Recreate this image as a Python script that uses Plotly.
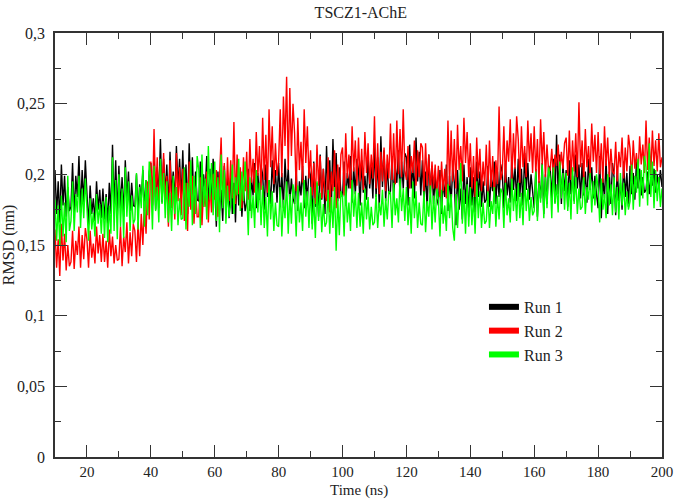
import plotly.graph_objects as go

# ---------------- data ----------------
# RMSD samples every 0.5 ns from 10 ns to 200 ns
time_start = 10.0
time_step = 0.5

run1 = [
    0.203, 0.172, 0.195, 0.166, 0.207, 0.178, 0.199, 0.170, 0.191, 0.174,
    0.177, 0.208, 0.170, 0.199, 0.184, 0.213, 0.173, 0.203, 0.180, 0.210,
    0.186, 0.164, 0.192, 0.172, 0.183, 0.167, 0.195, 0.175, 0.189, 0.169,
    0.190, 0.168, 0.186, 0.165, 0.194, 0.172, 0.221, 0.176, 0.210, 0.170,
    0.206, 0.176, 0.198, 0.170, 0.210, 0.182, 0.202, 0.174, 0.194, 0.178,
    0.177, 0.200, 0.172, 0.193, 0.182, 0.203, 0.174, 0.196, 0.179, 0.202,
    0.208, 0.178, 0.214, 0.175, 0.205, 0.183, 0.225, 0.180, 0.211, 0.186,
    0.207, 0.175, 0.216, 0.186, 0.202, 0.180, 0.220, 0.191, 0.211, 0.182,
    0.217, 0.180, 0.207, 0.172, 0.222, 0.187, 0.212, 0.177, 0.202, 0.182,
    0.181, 0.209, 0.174, 0.200, 0.187, 0.213, 0.176, 0.204, 0.183, 0.211,
    0.193, 0.163, 0.202, 0.174, 0.189, 0.167, 0.206, 0.178, 0.197, 0.169,
    0.202, 0.172, 0.194, 0.166, 0.206, 0.178, 0.198, 0.170, 0.190, 0.174,
    0.180, 0.204, 0.174, 0.197, 0.185, 0.208, 0.176, 0.201, 0.182, 0.206,
    0.200, 0.175, 0.207, 0.184, 0.196, 0.179, 0.210, 0.187, 0.203, 0.180,
    0.208, 0.181, 0.201, 0.176, 0.211, 0.187, 0.204, 0.180, 0.197, 0.183,
    0.179, 0.203, 0.174, 0.195, 0.185, 0.206, 0.176, 0.199, 0.181, 0.204,
    0.199, 0.165, 0.209, 0.177, 0.194, 0.170, 0.214, 0.182, 0.204, 0.172,
    0.220, 0.183, 0.210, 0.176, 0.225, 0.191, 0.215, 0.181, 0.205, 0.186,
    0.184, 0.209, 0.178, 0.201, 0.190, 0.213, 0.180, 0.205, 0.186, 0.211,
    0.203, 0.178, 0.210, 0.187, 0.199, 0.182, 0.213, 0.190, 0.206, 0.183,
    0.222, 0.184, 0.212, 0.176, 0.227, 0.191, 0.217, 0.181, 0.207, 0.186,
    0.188, 0.213, 0.182, 0.205, 0.194, 0.217, 0.184, 0.209, 0.190, 0.215,
    0.212, 0.178, 0.221, 0.190, 0.207, 0.183, 0.226, 0.195, 0.216, 0.185,
    0.210, 0.181, 0.202, 0.175, 0.214, 0.187, 0.206, 0.179, 0.198, 0.183,
    0.178, 0.203, 0.172, 0.195, 0.184, 0.207, 0.174, 0.199, 0.180, 0.205,
    0.194, 0.164, 0.203, 0.175, 0.190, 0.168, 0.207, 0.179, 0.198, 0.170,
    0.205, 0.178, 0.198, 0.173, 0.209, 0.184, 0.202, 0.177, 0.195, 0.180,
    0.182, 0.206, 0.177, 0.198, 0.188, 0.209, 0.179, 0.202, 0.184, 0.207,
    0.201, 0.176, 0.208, 0.185, 0.198, 0.180, 0.212, 0.189, 0.205, 0.181,
    0.211, 0.184, 0.204, 0.178, 0.215, 0.189, 0.208, 0.182, 0.200, 0.185,
    0.176, 0.204, 0.170, 0.195, 0.183, 0.208, 0.172, 0.200, 0.179, 0.206,
    0.204, 0.183, 0.211, 0.180, 0.228, 0.186, 0.214, 0.179, 0.207, 0.188,
    0.203, 0.177, 0.210, 0.186, 0.199, 0.181, 0.214, 0.190, 0.207, 0.183,
    0.208, 0.185, 0.202, 0.180, 0.211, 0.189, 0.205, 0.183, 0.199, 0.186,
    0.176, 0.213, 0.169, 0.197, 0.183, 0.211, 0.172, 0.202, 0.179, 0.208,
    0.198, 0.171, 0.205, 0.181, 0.194, 0.175, 0.209, 0.184, 0.201, 0.177,
    0.206, 0.186, 0.201, 0.182, 0.209, 0.190, 0.204, 0.185, 0.198, 0.187,
    0.189, 0.202, 0.186, 0.198, 0.192, 0.204, 0.187, 0.200, 0.190, 0.203,
    0.191,
]
run2 = [
    0.161, 0.134, 0.154, 0.128, 0.165, 0.139, 0.158, 0.132, 0.150, 0.135,
    0.138, 0.160, 0.133, 0.153, 0.143, 0.163, 0.134, 0.157, 0.140, 0.162,
    0.154, 0.134, 0.160, 0.141, 0.151, 0.137, 0.163, 0.144, 0.157, 0.138,
    0.158, 0.138, 0.153, 0.134, 0.161, 0.142, 0.156, 0.137, 0.150, 0.139,
    0.140, 0.163, 0.135, 0.156, 0.145, 0.166, 0.137, 0.159, 0.142, 0.165,
    0.160, 0.138, 0.166, 0.142, 0.172, 0.150, 0.181, 0.158, 0.195, 0.168,
    0.209, 0.178, 0.232, 0.184, 0.212, 0.176, 0.206, 0.188, 0.215, 0.181,
    0.199, 0.163, 0.210, 0.176, 0.194, 0.168, 0.215, 0.181, 0.205, 0.171,
    0.204, 0.167, 0.194, 0.160, 0.209, 0.175, 0.199, 0.165, 0.189, 0.170,
    0.170, 0.198, 0.164, 0.189, 0.177, 0.202, 0.166, 0.194, 0.173, 0.200,
    0.182, 0.203, 0.170, 0.198, 0.226, 0.178, 0.208, 0.174, 0.212, 0.181,
    0.210, 0.183, 0.237, 0.179, 0.214, 0.186, 0.205, 0.176, 0.212, 0.188,
    0.216, 0.182, 0.225, 0.194, 0.211, 0.187, 0.230, 0.199, 0.220, 0.189,
    0.240, 0.196, 0.228, 0.187, 0.246, 0.205, 0.234, 0.193, 0.222, 0.199,
    0.209, 0.246, 0.198, 0.255, 0.220, 0.269, 0.203, 0.261, 0.213, 0.250,
    0.229, 0.188, 0.240, 0.203, 0.223, 0.194, 0.246, 0.208, 0.234, 0.197,
    0.217, 0.185, 0.208, 0.179, 0.221, 0.192, 0.213, 0.183, 0.204, 0.187,
    0.181, 0.212, 0.173, 0.202, 0.188, 0.217, 0.176, 0.207, 0.183, 0.214,
    0.219, 0.185, 0.229, 0.197, 0.214, 0.190, 0.234, 0.202, 0.224, 0.192,
    0.226, 0.195, 0.218, 0.189, 0.230, 0.201, 0.222, 0.193, 0.214, 0.197,
    0.241, 0.190, 0.222, 0.186, 0.216, 0.195, 0.219, 0.188, 0.214, 0.197,
    0.236, 0.196, 0.229, 0.193, 0.238, 0.200, 0.232, 0.198, 0.246, 0.203,
    0.196, 0.220, 0.190, 0.213, 0.201, 0.224, 0.192, 0.217, 0.198, 0.222,
    0.219, 0.188, 0.222, 0.192, 0.214, 0.186, 0.209, 0.190, 0.207, 0.185,
    0.206, 0.184, 0.209, 0.188, 0.204, 0.183, 0.238, 0.192, 0.231, 0.195,
    0.225, 0.190, 0.235, 0.203, 0.220, 0.195, 0.240, 0.208, 0.230, 0.198,
    0.222, 0.190, 0.213, 0.184, 0.226, 0.197, 0.218, 0.188, 0.209, 0.192,
    0.221, 0.187, 0.224, 0.191, 0.213, 0.185, 0.210, 0.193, 0.248, 0.196,
    0.201, 0.234, 0.194, 0.224, 0.209, 0.239, 0.196, 0.229, 0.204, 0.241,
    0.225, 0.194, 0.234, 0.205, 0.220, 0.198, 0.238, 0.209, 0.229, 0.201,
    0.234, 0.200, 0.225, 0.193, 0.239, 0.207, 0.230, 0.198, 0.221, 0.202,
    0.203, 0.218, 0.199, 0.214, 0.206, 0.221, 0.200, 0.216, 0.204, 0.222,
    0.226, 0.199, 0.231, 0.196, 0.224, 0.202, 0.229, 0.198, 0.251, 0.205,
    0.224, 0.195, 0.232, 0.205, 0.220, 0.199, 0.236, 0.209, 0.228, 0.201,
    0.230, 0.200, 0.222, 0.194, 0.234, 0.206, 0.226, 0.198, 0.218, 0.202,
    0.200, 0.223, 0.195, 0.216, 0.205, 0.226, 0.197, 0.219, 0.202, 0.228,
    0.218, 0.196, 0.224, 0.204, 0.215, 0.199, 0.227, 0.207, 0.221, 0.201,
    0.238, 0.203, 0.226, 0.200, 0.231, 0.206, 0.224, 0.202, 0.229, 0.205,
    0.212,
]
run3 = [
    0.182, 0.153, 0.178, 0.150, 0.185, 0.156, 0.180, 0.152, 0.199, 0.160,
    0.167, 0.195, 0.160, 0.186, 0.173, 0.199, 0.162, 0.190, 0.169, 0.197,
    0.176, 0.153, 0.183, 0.161, 0.173, 0.156, 0.186, 0.165, 0.179, 0.158,
    0.181, 0.155, 0.184, 0.152, 0.178, 0.158, 0.212, 0.160, 0.196, 0.154,
    0.200, 0.163, 0.190, 0.155, 0.205, 0.170, 0.195, 0.160, 0.185, 0.165,
    0.168, 0.201, 0.161, 0.191, 0.176, 0.206, 0.163, 0.196, 0.171, 0.209,
    0.196, 0.161, 0.206, 0.174, 0.191, 0.166, 0.211, 0.179, 0.201, 0.169,
    0.195, 0.166, 0.187, 0.160, 0.199, 0.172, 0.191, 0.164, 0.183, 0.168,
    0.169, 0.205, 0.161, 0.194, 0.177, 0.210, 0.164, 0.199, 0.172, 0.213,
    0.203, 0.162, 0.214, 0.177, 0.197, 0.168, 0.220, 0.182, 0.208, 0.171,
    0.209, 0.167, 0.198, 0.159, 0.214, 0.176, 0.203, 0.165, 0.192, 0.170,
    0.179, 0.207, 0.172, 0.198, 0.185, 0.211, 0.174, 0.202, 0.181, 0.209,
    0.189, 0.157, 0.198, 0.169, 0.185, 0.162, 0.203, 0.173, 0.194, 0.164,
    0.192, 0.162, 0.184, 0.156, 0.196, 0.168, 0.188, 0.160, 0.180, 0.164,
    0.163, 0.191, 0.156, 0.182, 0.169, 0.195, 0.158, 0.186, 0.165, 0.193,
    0.184, 0.156, 0.192, 0.166, 0.180, 0.160, 0.196, 0.170, 0.188, 0.162,
    0.191, 0.161, 0.183, 0.155, 0.195, 0.167, 0.187, 0.159, 0.179, 0.163,
    0.166, 0.189, 0.158, 0.184, 0.162, 0.191, 0.146, 0.183, 0.157, 0.188,
    0.184, 0.156, 0.192, 0.166, 0.180, 0.160, 0.196, 0.170, 0.188, 0.162,
    0.187, 0.163, 0.180, 0.158, 0.190, 0.168, 0.184, 0.161, 0.177, 0.164,
    0.166, 0.186, 0.162, 0.180, 0.171, 0.189, 0.163, 0.183, 0.168, 0.188,
    0.187, 0.162, 0.194, 0.171, 0.183, 0.166, 0.197, 0.174, 0.190, 0.167,
    0.191, 0.164, 0.184, 0.158, 0.195, 0.169, 0.188, 0.162, 0.180, 0.165,
    0.164, 0.188, 0.159, 0.181, 0.170, 0.192, 0.161, 0.185, 0.166, 0.190,
    0.182, 0.156, 0.189, 0.165, 0.178, 0.160, 0.193, 0.169, 0.186, 0.162,
    0.153, 0.186, 0.162, 0.191, 0.208, 0.165, 0.189, 0.158, 0.193, 0.163,
    0.191, 0.164, 0.184, 0.158, 0.195, 0.169, 0.188, 0.162, 0.180, 0.165,
    0.167, 0.188, 0.162, 0.181, 0.172, 0.191, 0.163, 0.185, 0.168, 0.190,
    0.187, 0.162, 0.194, 0.171, 0.183, 0.166, 0.197, 0.174, 0.190, 0.167,
    0.194, 0.169, 0.187, 0.164, 0.197, 0.174, 0.190, 0.167, 0.184, 0.171,
    0.174, 0.202, 0.167, 0.194, 0.180, 0.207, 0.169, 0.198, 0.176, 0.205,
    0.197, 0.169, 0.205, 0.179, 0.193, 0.173, 0.209, 0.183, 0.201, 0.175,
    0.201, 0.174, 0.194, 0.168, 0.205, 0.179, 0.198, 0.172, 0.190, 0.175,
    0.177, 0.198, 0.172, 0.191, 0.182, 0.201, 0.173, 0.195, 0.178, 0.200,
    0.190, 0.166, 0.197, 0.175, 0.186, 0.169, 0.200, 0.178, 0.193, 0.171,
    0.198, 0.173, 0.191, 0.168, 0.201, 0.178, 0.194, 0.171, 0.188, 0.175,
    0.181, 0.207, 0.175, 0.199, 0.187, 0.211, 0.177, 0.203, 0.183, 0.213,
    0.205, 0.178, 0.222, 0.184, 0.209, 0.176, 0.203, 0.181, 0.198, 0.177,
    0.190,
]
series_names = ["Run 1", "Run 2", "Run 3"]
series_colors = ["#000000", "#ff0000", "#00ff00"]

x_tick_vals = [20, 40, 60, 80, 100, 120, 140, 160, 180, 200]
x_tick_text = ["20", "40", "60", "80", "100", "120", "140", "160", "180", "200"]
y_tick_vals = [0, 0.05, 0.1, 0.15, 0.2, 0.25, 0.3]
y_tick_text = ["0", "0,05", "0,1", "0,15", "0,2", "0,25", "0,3"]

title_text = "TSCZ1-AChE"
x_title = "Time (ns)"
y_title = "RMSD (nm)"

# ---------------- figure ----------------
FONT = "Liberation Serif, Times New Roman, Times, DejaVu Serif, serif"
TXT = "#222222"
AX = "#333333"
times = [time_start + i * time_step for i in range(len(run1))]

fig = go.Figure()
for name, vals, col in zip(series_names, [run1, run2, run3], series_colors):
    fig.add_trace(go.Scatter(x=times, y=vals, mode="lines", name=name,
                             line=dict(color=col, width=1.4), showlegend=False,
                             hoverinfo="skip"))
# legend entries with thick samples (legend only, no data)
for name, col in zip(series_names, series_colors):
    fig.add_trace(go.Scatter(x=[None], y=[None], mode="lines", name=name,
                             line=dict(color=col, width=6)))

axis_common = dict(
    showline=True, linecolor=AX, linewidth=1.5, mirror="allticks",
    ticks="inside", tickcolor=AX, tickwidth=1.2, ticklen=12,
    showgrid=False, zeroline=False, automargin=False,
    title_font=dict(family=FONT, size=16, color=TXT),
)

fig.update_xaxes(range=[10, 200], tickvals=x_tick_vals, ticktext=x_tick_text,
                 minor=dict(dtick=10, tick0=0, ticks="inside", ticklen=6,
                            tickcolor=AX, tickwidth=1.2),
                 tickfont=dict(family=FONT, size=15, color=TXT),
                 ticklabelstandoff=0,
                 **axis_common)
fig.update_yaxes(range=[0, 0.3], tickvals=y_tick_vals, ticktext=y_tick_text,
                 minor=dict(dtick=0.025, tick0=0, ticks="inside", ticklen=6,
                            tickcolor=AX, tickwidth=1.2),
                 tickfont=dict(family=FONT, size=16, color=TXT),
                 title_text=y_title, title_standoff=4, ticklabelstandoff=5,
                 **axis_common)

# x-axis title placed as a text label just below the tick labels
fig.add_annotation(text=x_title, xref="paper", yref="paper", x=0.5, y=-0.078,
                   xanchor="center", yanchor="middle", showarrow=False,
                   font=dict(family=FONT, size=15, color=TXT))

fig.update_layout(
    width=677, height=499,
    margin=dict(l=55, r=15, t=33, b=42),
    paper_bgcolor="white", plot_bgcolor="white",
    title=dict(text=title_text, x=0.533, xanchor="center", y=0.976, yanchor="middle",
               yref="container", font=dict(family=FONT, size=16, color=TXT)),
    legend=dict(x=0.7067, y=0.394, xanchor="left", yanchor="top",
                bgcolor="rgba(0,0,0,0)", borderwidth=0,
                font=dict(family=FONT, size=16, color=TXT),
                tracegroupgap=0),
    showlegend=True,
)

fig.write_html("out.html")
